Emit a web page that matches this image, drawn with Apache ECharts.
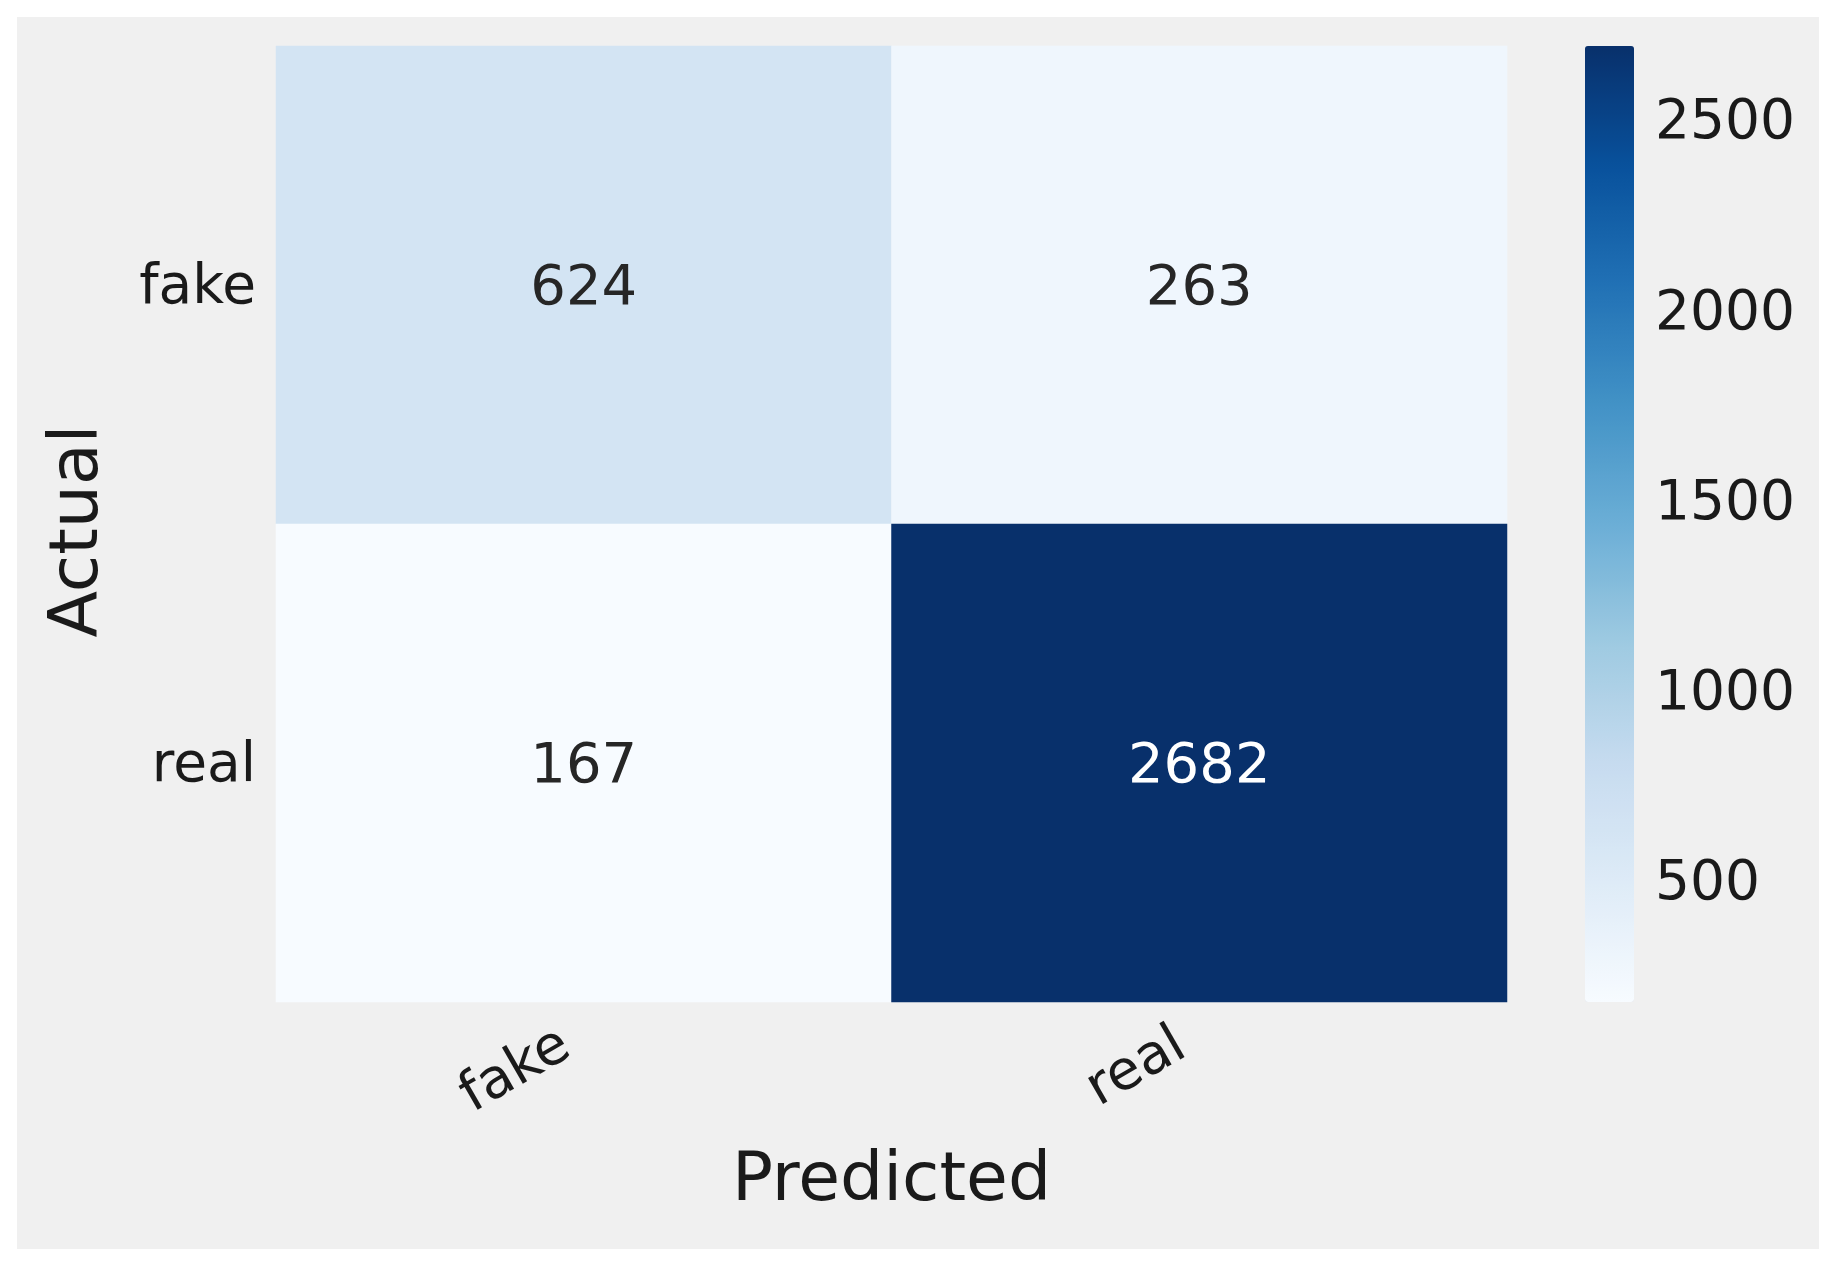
<!DOCTYPE html>
<html>
<head>
<meta charset="utf-8">
<script src="https://cdn.jsdelivr.net/npm/echarts@6/dist/echarts.min.js"></script>
<style>
html,body{margin:0;padding:0;background:#ffffff;}
#chart{width:1836px;height:1266px;}
</style>
</head>
<body>
<div id="chart"></div>
<script>
// Data
const predictedLabels = ['fake', 'real'];
const actualLabels = ['fake', 'real'];
// rows = actual, columns = predicted
const rowFake = [624, 263];
const rowReal = [167, 2682];
const colorbarTicks = [500, 1000, 1500, 2000, 2500];

const matrix = [rowFake, rowReal];
const allVals = matrix.flat();
const vMin = Math.min(...allVals);
const vMax = Math.max(...allVals);
const blues = ['#f7fbff','#deebf7','#c6dbef','#9ecae1','#6baed6','#4292c6','#2171b5','#08519c','#08306b'];
const mid = (vMin + vMax) / 2;

const seriesData = [];
matrix.forEach((row, r) => {
  row.forEach((v, c) => {
    seriesData.push({
      value: [c, r, v],
      label: { color: v > mid ? '#ffffff' : '#262626' }
    });
  });
});

const FONT = 'DejaVu Sans';
const TXT = '#1a1a1a';
const chart = echarts.init(document.getElementById('chart'), null, {renderer: 'canvas'});
chart.setOption({
  backgroundColor: '#ffffff',
  animation: false,
  textStyle: { fontFamily: FONT },
  graphic: [{
    type: 'rect', z: -100, silent: true,
    shape: { x: 17, y: 17, width: 1802, height: 1232 },
    style: { fill: '#f0f0f0' }
  }],
  grid: [
    { left: 276, top: 46, width: 1231, height: 956 },
    { left: 1585, top: 46, width: 49, height: 956 }
  ],
  xAxis: [{
    type: 'category', gridIndex: 0, data: predictedLabels,
    name: 'Predicted', nameLocation: 'middle', nameGap: 146,
    nameTextStyle: { fontSize: 68, color: TXT, fontFamily: FONT },
    axisLine: { show: false }, axisTick: { show: false }, splitLine: { show: false },
    axisLabel: { fontSize: 55, rotate: 30, margin: 30, padding: [0, 20, 0, 0], color: TXT, fontFamily: FONT }
  }, {
    type: 'value', gridIndex: 1, show: false
  }],
  yAxis: [{
    type: 'category', gridIndex: 0, data: actualLabels, inverse: true,
    name: 'Actual', nameLocation: 'middle', nameGap: 163, nameRotate: 90,
    nameTextStyle: { fontSize: 68, color: TXT, fontFamily: FONT, padding: [0, 14, 0, 0] },
    axisLine: { show: false }, axisTick: { show: false }, splitLine: { show: false },
    axisLabel: { margin: 20, formatter: (v) => '{t|' + v + '}',
      rich: { t: { fontSize: 55, color: TXT, fontFamily: FONT, padding: [8, 0, 0, 0] } } }
  }, {
    type: 'value', gridIndex: 1, position: 'right', min: vMin, max: vMax,
    axisLine: { show: false }, axisTick: { show: false }, splitLine: { show: false },
    axisLabel: { margin: 21, customValues: colorbarTicks, formatter: (v) => '{t|' + v + '}',
      rich: { t: { fontSize: 55, color: TXT, fontFamily: FONT, padding: [18, 0, 0, 0] } } }
  }],
  visualMap: {
    type: 'continuous', min: vMin, max: vMax, seriesIndex: 0,
    calculable: false, show: true, orient: 'vertical',
    left: 1585, top: 46, itemWidth: 49, itemHeight: 956, padding: 0,
    text: null, showLabel: false, hoverLink: false,
    inRange: { color: blues }
  },
  series: [{
    type: 'heatmap', xAxisIndex: 0, yAxisIndex: 0,
    data: seriesData,
    label: { show: true, fontSize: 56, fontFamily: FONT, offset: [0, 4] },
    itemStyle: { borderWidth: 0 },
    emphasis: { disabled: true }
  }]
});
</script>
</body>
</html>
